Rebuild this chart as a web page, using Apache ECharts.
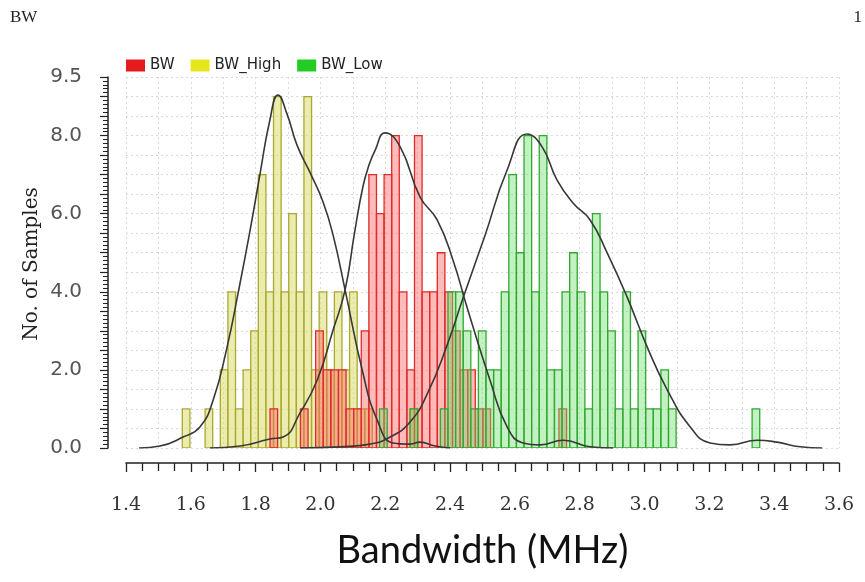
<!DOCTYPE html>
<html>
<head>
<meta charset="utf-8">
<script src="https://cdn.jsdelivr.net/npm/echarts@6/dist/echarts.min.js"></script>
<style>
  html, body { margin: 0; padding: 0; background: #fff; }
  #main { width: 865px; height: 582px; }
</style>
</head>
<body>
<div id="main"></div>
<script>
// 直方图的箱宽 (MHz)
var binWidth = 0.02346;

// BW_High (黄色) 起点和每个箱的计数
var highStart = 1.5737;
var highCounts = [1, 0, 0, 1, 0, 2, 4, 1, 2, 3, 7, 4, 9, 4, 6, 4, 9, 2, 4, 2, 4, 2, 4, 1, 1, 0, 0, 0, 0, 0, 1];

// BW (红色)
var bwStart = 1.8444;
var bwCounts = [1, 0, 0, 0, 1, 0, 3, 2, 2, 2, 1, 1, 3, 7, 6, 7, 8, 4, 2, 8, 4, 4, 5, 4, 3, 2, 2, 1, 1, 0, 0, 0, 0, 0, 0, 0, 0, 0, 1];

// BW_Low (绿色)
var lowStart = 2.1824;
var lowCounts = [1, 0, 0, 0, 1, 0, 0, 0, 1, 4, 4, 3, 1, 3, 2, 2, 4, 7, 5, 8, 4, 8, 2, 2, 4, 5, 4, 1, 6, 4, 3, 1, 4, 1, 3, 1, 1, 2, 1, 0, 0, 0, 0, 0, 0, 0, 0, 0, 0, 1];

// 密度曲线 [x, y]
var highCurve = [[1.440, 0], [1.505, 0.05], [1.576, 0.28], [1.628, 0.54], [1.669, 1.23], [1.712, 2.59], [1.746, 3.97], [1.783, 5.58], [1.814, 7.04], [1.844, 8.40], [1.869, 9.04], [1.897, 8.55], [1.928, 7.75], [1.968, 7.05], [2.008, 6.30], [2.039, 5.45], [2.076, 4.05], [2.131, 1.92], [2.175, 0.72], [2.224, 0.13], [2.277, 0.10], [2.307, 0.15], [2.354, 0.05], [2.400, 0]];
var bwCurve = [[1.659, 0], [1.752, 0.05], [1.844, 0.23], [1.885, 0.28], [1.937, 0.90], [1.990, 1.74], [2.039, 3.02], [2.076, 4.05], [2.105, 5.50], [2.131, 6.69], [2.150, 7.25], [2.169, 7.63], [2.199, 8.07], [2.246, 7.71], [2.307, 6.43], [2.360, 5.84], [2.409, 4.81], [2.452, 3.61], [2.523, 1.74], [2.576, 0.54], [2.625, 0.13], [2.678, 0.08], [2.749, 0.20], [2.832, 0.03], [2.903, 0]];
var lowCurve = [[1.937, 0], [2.060, 0.03], [2.153, 0.10], [2.215, 0.28], [2.277, 0.67], [2.332, 1.43], [2.391, 2.64], [2.440, 3.84], [2.508, 5.45], [2.576, 7.12], [2.638, 8.04], [2.684, 7.71], [2.730, 6.86], [2.780, 6.27], [2.832, 5.84], [2.885, 4.99], [2.946, 3.87], [3.008, 2.59], [3.070, 1.49], [3.141, 0.54], [3.202, 0.13], [3.264, 0.08], [3.348, 0.20], [3.409, 0.15], [3.480, 0.03], [3.548, 0]];

// 刻度
var xMin = 1.4, xMax = 3.6;
var yLabels = [0, 2, 4, 6, 8, 9.5];

function toBins(start, counts) {
    var out = [];
    counts.forEach(function (c, i) {
        if (c > 0) out.push([start + i * binWidth, c]);
    });
    return out;
}

function barSeries(name, start, counts, stroke, fill, legendColor) {
    return {
        name: name,
        type: 'custom',
        itemStyle: { color: legendColor },
        clip: true,
        renderItem: function (params, api) {
            var x0 = api.value(0), c = api.value(1);
            var p0 = api.coord([x0, c]);
            var p1 = api.coord([x0 + binWidth, 0]);
            return {
                type: 'rect',
                shape: { x: p0[0], y: p0[1], width: p1[0] - p0[0], height: p1[1] - p0[1] },
                style: { fill: fill, stroke: stroke, lineWidth: 1.3 }
            };
        },
        encode: { x: 0, y: 1 },
        data: toBins(start, counts)
    };
}

function curveSeries(data) {
    return {
        type: 'line',
        smooth: 0.5,
        showSymbol: false,
        silent: true,
        lineStyle: { color: '#383838', width: 1.6 },
        data: data,
        z: 5
    };
}

var myChart = echarts.init(document.getElementById('main'));

var option = {
    animation: false,
    backgroundColor: '#fff',
    graphic: [
        { type: 'text', left: 10, top: 9, style: { text: 'BW', font: '17px "Liberation Serif"', fill: '#222' } },
        { type: 'text', right: 3, top: 9, style: { text: '1', font: '17px "Liberation Serif"', fill: '#222' } },
        {
            type: 'text', x: 32, y: 264, rotation: Math.PI / 2,
            style: { text: 'No. of Samples', font: '20px "DejaVu Serif"', fill: '#222', textAlign: 'center', textVerticalAlign: 'middle' }
        }
    ],
    legend: {
        data: ['BW', 'BW_High', 'BW_Low'],
        left: 121, top: 53,
        icon: 'rect',
        itemWidth: 19, itemHeight: 12, itemGap: 16,
        textStyle: { fontFamily: 'DejaVu Sans', fontSize: 15, color: '#222' }
    },
    grid: { left: 126, right: 26, top: 77, bottom: 134 },
    xAxis: [{
        type: 'value', min: xMin, max: xMax, interval: 0.2,
        offset: 15,
        name: 'Bandwidth (MHz)', nameLocation: 'middle', nameGap: 69,
        nameTextStyle: { fontFamily: 'Lato', fontSize: 38, color: '#111' },
        axisLine: { show: true, onZero: false, lineStyle: { color: '#222', width: 1.5 } },
        axisTick: { show: true, length: 9, lineStyle: { color: '#222', width: 1.3 } },
        minorTick: { show: true, splitNumber: 4, length: 8, lineStyle: { color: '#222', width: 1.3 } },
        axisLabel: { margin: 33, fontFamily: 'DejaVu Serif', fontSize: 19, color: '#333', formatter: function (v) { return v.toFixed(1); } },
        splitLine: { show: false }
    }, {
        type: 'value', min: xMin, max: xMax, interval: 0.1,
        axisLine: { show: false }, axisTick: { show: false }, axisLabel: { show: false },
        splitLine: { show: true, lineStyle: { color: '#d9d9d9', type: [2, 3] } }
    }],
    yAxis: {
        type: 'value', min: 0, max: 9.5, interval: 0.5,
        offset: 18,
        axisLine: { show: true, onZero: false, lineStyle: { color: '#222', width: 1.5 } },
        axisTick: { show: true, length: 8, lineStyle: { color: '#222', width: 1.2 } },
        minorTick: { show: true, splitNumber: 5, length: 5, lineStyle: { color: '#222', width: 1 } },
        axisLabel: {
            margin: 26, fontFamily: 'DejaVu Sans', fontSize: 20, color: '#555',
            customValues: yLabels,
            formatter: function (v) { return v.toFixed(1); }
        },
        splitLine: { show: true, lineStyle: { color: '#d9d9d9', type: [2, 3] } }
    },
    series: [
        barSeries('BW_High', highStart, highCounts, '#a9a932', 'rgba(220,220,110,0.55)', '#e6e61e'),
        barSeries('BW', bwStart, bwCounts, '#e02a2a', 'rgba(255,90,90,0.42)', '#e51c1c'),
        barSeries('BW_Low', lowStart, lowCounts, '#32a832', 'rgba(110,225,110,0.42)', '#22cc22'),
        curveSeries(highCurve),
        curveSeries(bwCurve),
        curveSeries(lowCurve)
    ]
};

myChart.setOption(option);
</script>
</body>
</html>
